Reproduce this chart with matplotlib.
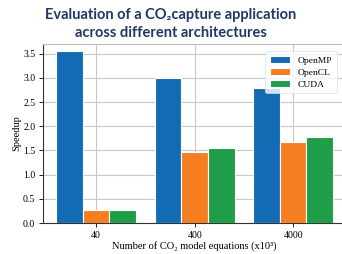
import numpy as np
import matplotlib
matplotlib.use("Agg")
import matplotlib.pyplot as plt

# --- data ---
sizes = ["40", "400", "4000"]
openmp = [3.55, 2.99, 2.79]
opencl = [0.26, 1.46, 1.67]
cuda = [0.27, 1.55, 1.77]
series_names = ["OpenMP", "OpenCL", "CUDA"]
colors = ["#136bb4", "#f47e20", "#1f9d48"]

serif = ["Liberation Serif", "DejaVu Serif"]

fig = plt.figure(figsize=(3.42, 2.54), dpi=100)
ax = fig.add_axes([0.1257, 0.122, 0.887, 0.705])

x = np.arange(len(sizes))
w = 0.27
for i, (vals, name, c) in enumerate(zip([openmp, opencl, cuda], series_names, colors)):
    ax.bar(x + (i - 1) * w, vals, w, color=c, edgecolor="white", linewidth=0.8,
           label=name, zorder=3)

ax.set_xlim(-0.54, 2.54)
ax.set_ylim(0, 3.7)
ax.set_yticks(np.arange(0, 3.51, 0.5))
ax.set_yticklabels([f"{v:.1f}" for v in np.arange(0, 3.51, 0.5)], family=serif, fontsize=7)
ax.set_xticks(x)
ax.set_xticklabels(sizes, family=serif, fontsize=7)
ax.tick_params(length=3, width=0.6, pad=2.5)
ax.grid(True, color="#c8c8c8", linewidth=0.8, zorder=0)
ax.set_axisbelow(True)

for s in ["top", "right"]:
    ax.spines[s].set_color("#bbbbbb")
ax.spines["left"].set_color("#333333")
ax.spines["bottom"].set_color("#333333")

ax.set_ylabel("Speedup", family=serif, fontsize=7.5, labelpad=1)
ax.set_xlabel("Number of CO\u2082 model equations (x10\u00b3)", family=serif, fontsize=7.5, labelpad=1)

leg = ax.legend(loc="upper right", bbox_to_anchor=(0.985, 0.985), prop={"family": serif, "size": 6.8},
                frameon=True, handlelength=2.2, borderpad=0.5, labelspacing=0.35)
leg.get_frame().set_edgecolor("#dddddd")
leg.get_frame().set_linewidth(0.6)

fig.text(0.5, 0.94, "Evaluation of a CO\u2082capture application", ha="center", va="center",
         family=["Lato", "DejaVu Sans"], weight="bold", fontsize=10.5, color="#1f3864")
fig.text(0.5, 0.87, "across different architectures", ha="center", va="center",
         family=["Lato", "DejaVu Sans"], weight="bold", fontsize=10.5, color="#1f3864")

fig.savefig("out.png", dpi=100)
